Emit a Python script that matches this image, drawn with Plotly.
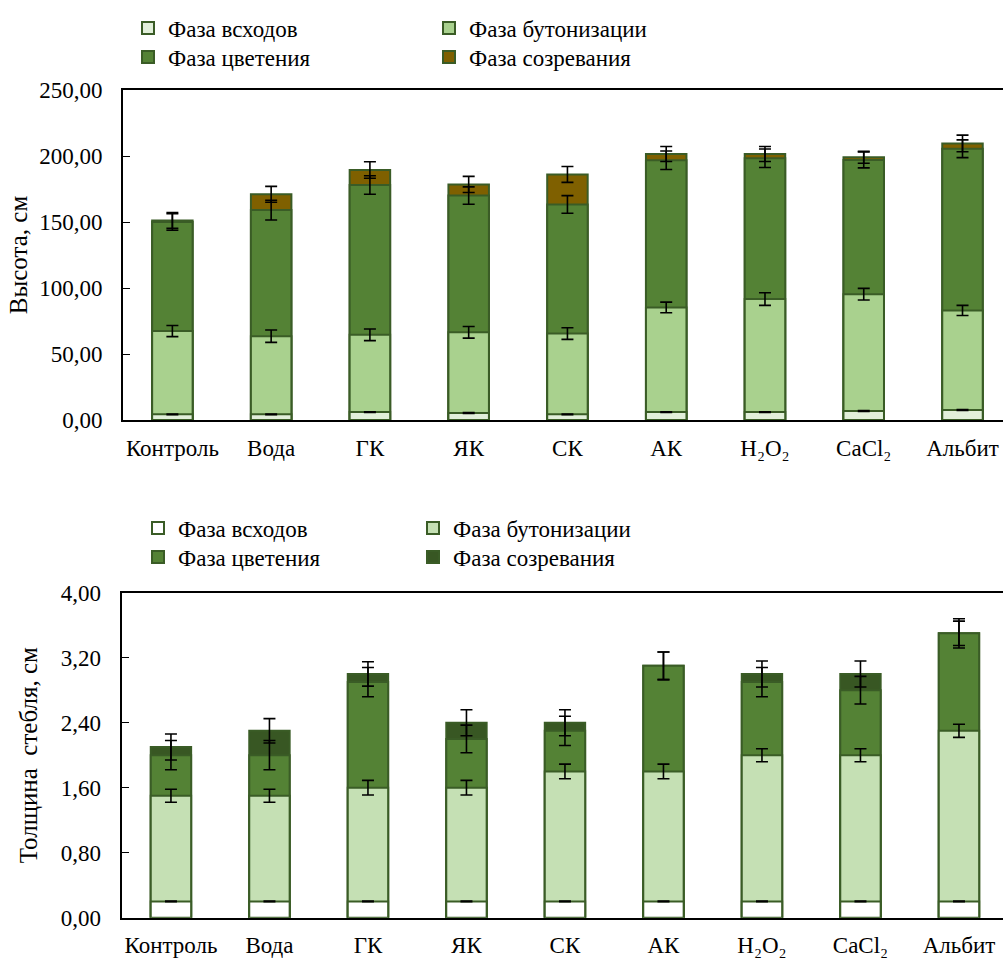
import plotly.graph_objects as go

# Treatments (x categories)
categories = ["Контроль", "Вода", "ГК", "ЯК", "СК", "АК",
              "H₂O₂", "CaCl₂", "Альбит"]

phases = ["Фаза всходов", "Фаза бутонизации", "Фаза цветения", "Фаза созревания"]

# Plant height by phase, cm
height_seedling = [4.3, 4.3, 6.0, 5.3, 4.3, 6.0, 6.0, 6.8, 7.6]
height_budding = [67.4, 63.5, 64.5, 66.4, 65.5, 85.3, 91.6, 95.3, 83.0]
height_flowering = [150.0, 159.0, 178.0, 170.0, 163.3, 196.8, 198.3, 197.0, 205.5]
height_ripening = [151.2, 171.0, 189.4, 178.5, 186.0, 201.5, 201.5, 199.0, 209.5]

height_err_seedling = [0.3] * 9
height_err_budding = [4.2, 4.7, 4.4, 4.4, 4.4, 4.0, 4.8, 4.4, 3.8]
height_err_flowering = [6.3, 7.5, 7.0, 6.6, 6.7, 7.0, 7.0, 6.0, 6.7]
height_err_ripening = [6.0, 6.0, 6.3, 6.1, 6.0, 5.7, 5.7, 4.5, 6.3]

# Stem thickness by phase, cm
stem_seedling = [0.2] * 9
stem_budding = [1.5, 1.5, 1.6, 1.6, 1.8, 1.8, 2.0, 2.0, 2.3]
stem_flowering = [2.0, 2.0, 2.9, 2.2, 2.3, 3.1, 2.9, 2.8, 3.5]
stem_ripening = [2.1, 2.3, 3.0, 2.4, 2.4, 3.1, 3.0, 3.0, 3.5]

stem_err_seedling = [0.004] * 9
stem_err_budding = [0.08, 0.08, 0.09, 0.09, 0.09, 0.09, 0.08, 0.08, 0.08]
stem_err_flowering = [0.18, 0.18, 0.18, 0.17, 0.18, 0.17, 0.18, 0.17, 0.18]
stem_err_ripening = [0.16, 0.15, 0.15, 0.16, 0.16, 0.17, 0.16, 0.16, 0.15]

height_colors = ["#E2EFDA", "#A9D18E", "#548235", "#7F6000"]
stem_colors = ["#FFFFFF", "#C5E0B4", "#548235", "#385723"]
OUTLINE = "#3A5C26"
FONT = "Liberation Serif"

W, H = 1003, 958
x_idx = list(range(len(categories)))

fig = go.Figure()


def add_panel(series, errors, colors, xa, ya, legend_names):
    # Overlapping bars: latest phase at the back, earliest at the front
    for i in reversed(range(4)):
        fig.add_trace(go.Bar(
            x=x_idx, y=series[i], name=phases[i],
            marker=dict(color=colors[i], line=dict(color=OUTLINE, width=2)),
            width=0.41, xaxis=xa, yaxis=ya, legend=legend_names[i],
        ))
    # Error bars drawn above all bars
    for i in reversed(range(4)):
        fig.add_trace(go.Scatter(
            x=x_idx, y=series[i], mode="markers",
            marker=dict(size=1, color="rgba(0,0,0,0)"),
            error_y=dict(type="data", array=errors[i], color="black",
                         thickness=1.6, width=6),
            showlegend=False, hoverinfo="skip", xaxis=xa, yaxis=ya,
        ))


add_panel([height_seedling, height_budding, height_flowering, height_ripening],
          [height_err_seedling, height_err_budding, height_err_flowering, height_err_ripening],
          height_colors, "x", "y", ["legend", "legend2", "legend3", "legend4"])
add_panel([stem_seedling, stem_budding, stem_flowering, stem_ripening],
          [stem_err_seedling, stem_err_budding, stem_err_flowering, stem_err_ripening],
          stem_colors, "x2", "y2", ["legend5", "legend6", "legend7", "legend8"])

axis_font = dict(family=FONT, size=23, color="black")
xcommon = dict(tickmode="array", tickvals=x_idx, ticktext=categories,
               showline=True, linecolor="black", linewidth=2, mirror=True,
               ticks="", showgrid=False, zeroline=False, tickfont=axis_font,
               ticklabelstandoff=6, automargin=False)
ycommon = dict(showline=True, linecolor="black", linewidth=2, mirror=False,
               ticks="inside", ticklen=7, tickwidth=1, tickcolor="black",
               showgrid=False, zeroline=False, tickformat=".2f",
               tickfont=axis_font, ticklabelstandoff=14, automargin=False)


def legend_box(x_px, y_px):
    # One legend entry placed at a pixel position (left edge, vertical centre)
    return dict(x=x_px / W, y=1 - y_px / H, xanchor="left", yanchor="middle",
                font=dict(family=FONT, size=23, color="black"),
                bgcolor="rgba(0,0,0,0)", itemwidth=30, borderwidth=0)


fig.update_layout(
    width=W, height=H,
    margin=dict(l=0, r=0, t=0, b=0, autoexpand=False),
    paper_bgcolor="white", plot_bgcolor="white",
    barmode="overlay",
    separators=", ",
    font=dict(family=FONT, color="black"),
    xaxis=dict(domain=[123 / W, 1], range=[-0.5, 8.41], anchor="y", **xcommon),
    yaxis=dict(domain=[1 - 420 / H, 1 - 90 / H], range=[0, 250], dtick=50,
               anchor="x",
               title=dict(text="Высота, см", font=dict(family=FONT, size=25),
                          standoff=4),
               **ycommon),
    xaxis2=dict(domain=[121.7 / W, 1], range=[-0.5, 8.447], anchor="y2", **xcommon),
    yaxis2=dict(domain=[1 - 917.7 / H, 1 - 592.7 / H], range=[0, 4.0], dtick=0.8,
                anchor="x2",
                title=dict(text="Толщина\u00a0 стебля, см", font=dict(family=FONT, size=25),
                           standoff=16),
                **ycommon),
    legend=legend_box(128, 28),
    legend2=legend_box(429, 28),
    legend3=legend_box(128, 57),
    legend4=legend_box(429, 57),
    legend5=legend_box(138, 528),
    legend6=legend_box(413, 528),
    legend7=legend_box(138, 557),
    legend8=legend_box(413, 557),
)

fig.write_html("out.html")
